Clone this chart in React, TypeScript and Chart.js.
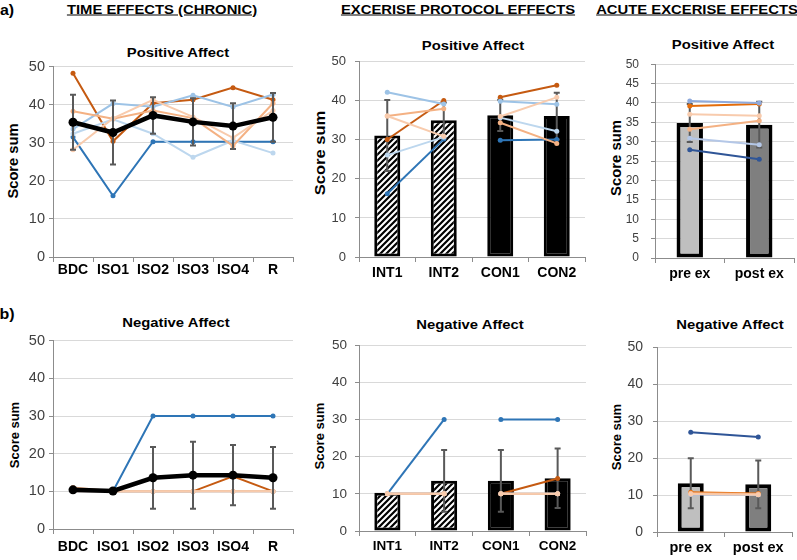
import React, { useEffect, useRef } from 'react';
import { Chart, registerables } from 'chart.js';

Chart.register(...registerables);

const FONT = "'Liberation Sans', Arial, sans-serif";
const AXIS = '#8C8C8C';
const GRID = '#D9D9D9';
const ERR = '#595959';

// ---------- categories ----------
const timeLabels = ['BDC', 'ISO1', 'ISO2', 'ISO3', 'ISO4', 'R'];
const protocolLabels = ['INT1', 'INT2', 'CON1', 'CON2'];
const acuteLabels = ['pre ex', 'post ex'];

// ---------- a) Positive affect, time effects ----------
const timePosDarkOrange = [48.3, 30.4, 40.4, 41.3, 44.5, 41.3];
const timePosDarkBlue = [31.5, 16.1, 30.3, 30.3, 30.3, 30.3];
const timePosLightBlue = [33.6, 40.3, 39.5, 42.5, 39.4, 42.7];
const timePosPaleBlue = [32.4, 36.2, 32.4, 26.2, 30.6, 27.3];
const timePosLightOrange = [38.3, 36.3, 38.5, 36.5, 29.2, 40.4];
const timePosPeach = [28.2, 36.4, 41.3, 36.8, 31.3, 38.5];
const timePosMean = [35.4, 32.7, 37.2, 35.5, 34.4, 36.7];
const timePosSD = [7.2, 8.4, 4.8, 6.2, 6.0, 6.4];

// ---------- a) Positive affect, protocol effects ----------
const protoPosDarkOrange = [30.1, 40.1, 40.9, 44.0];
const protoPosDarkBlue = [16.2, 30.2, 29.9, 30.1];
const protoPosLightBlue = [42.2, 39.2, 39.9, 39.1];
const protoPosPaleBlue = [26.1, 30.7, 35.7, 32.2];
const protoPosLightOrange = [36.1, 38.0, 34.4, 29.1];
const protoPosPeach = [36.1, 30.9, 36.0, 40.9];
const protoPosMean = [31.1, 35.0, 36.3, 36.1];
const protoPosSD = [9.1, 4.6, 4.0, 6.0];

// ---------- a) Positive affect, acute effects ----------
const acutePosOrange = [39.2, 39.7];
const acutePosDarkBlue = [27.9, 25.5];
const acutePosLightBlue = [40.5, 40.0];
const acutePosPaleBlue = [30.9, 29.2];
const acutePosLightOrange = [33.2, 35.4];
const acutePosPeach = [37.1, 36.7];
const acutePosMean = [34.8, 34.4];
const acutePosSD = [4.9, 5.9];

// ---------- b) Negative affect, time effects ----------
const timeNegDarkOrange = [10, 10, 10, 10, 14, 10];
const timeNegDarkBlue = [10, 10, 30, 30, 30, 30];
const timeNegLightBlue = [10, 10, 10, 10, 10, 10];
const timeNegPaleBlue = [10, 10, 10, 10, 10, 10];
const timeNegLightOrange = [11, 10, 10, 10, 10, 10];
const timeNegPeach = [10, 10, 10, 10, 10, 10];
const timeNegMean = [10.4, 10.1, 13.6, 14.3, 14.3, 13.6];
const timeNegSD = [0, 0, 8.2, 8.9, 8.0, 8.2];

// ---------- b) Negative affect, protocol effects ----------
const protoNegDarkOrange = [10, 10, 10, 14.1];
const protoNegDarkBlue = [10, 30, 30, 30];
const protoNegLightBlue = [10, 10, 10, 10];
const protoNegPaleBlue = [10, 10, 10, 10];
const protoNegLightOrange = [10, 10, 10, 10];
const protoNegPeach = [10, 10, 10, 10];
const protoNegMean = [10.3, 13.5, 13.5, 14.2];
const protoNegSD = [0, 8.3, 8.3, 8.0];

// ---------- b) Negative affect, acute effects ----------
const acuteNegOrange = [10.8, 10.4];
const acuteNegDarkBlue = [27.0, 25.7];
const acuteNegLightBlue = [10.2, 10.1];
const acuteNegPaleBlue = [10.2, 10.1];
const acuteNegLightOrange = [10.5, 10.3];
const acuteNegPeach = [10.3, 10.1];
const acuteNegMean = [13.2, 12.9];
const acuteNegSD = [6.8, 6.5];

const COL = {
  darkOrange: '#C55A11',
  darkBlue: '#2E75B6',
  lightBlue: '#9DC3E6',
  paleBlue: '#BDD7EE',
  lightOrange: '#F4B183',
  peach: '#F8CBAD',
};
const COLA = {
  orange: '#E46C0A',
  darkBlue: '#2F5597',
  lightBlue: '#8FAADC',
  paleBlue: '#B4C7E7',
  lightOrange: '#F4B183',
  peach: '#F8CBAD',
};

// ---------- error bar plugin ----------
function drawErr(chart: any, index: number, when: string) {
  const ds: any = chart.data.datasets[index];
  if (!ds || !ds.errors || ds.errorWhen !== when) return;
  const meta = chart.getDatasetMeta(index);
  const ys = chart.scales.y;
  const ctx = chart.ctx;
  ctx.save();
  ctx.strokeStyle = ERR;
  ctx.lineWidth = 2;
  ds.data.forEach((v: number | null, i: number) => {
    const e = ds.errors[i];
    if (!e || v == null) return;
    const el = meta.data[i];
    if (!el) return;
    const x = el.x;
    const yT = ys.getPixelForValue(v + e);
    const yB = ys.getPixelForValue(v - e);
    ctx.beginPath();
    ctx.moveTo(x, yT);
    ctx.lineTo(x, yB);
    ctx.moveTo(x - 3, yT);
    ctx.lineTo(x + 3, yT);
    ctx.moveTo(x - 3, yB);
    ctx.lineTo(x + 3, yB);
    ctx.stroke();
  });
  ctx.restore();
}

const errorBarPlugin = {
  id: 'errorBars',
  beforeDatasetDraw(chart: any, args: any) {
    drawErr(chart, args.index, 'before');
  },
  afterDatasetDraw(chart: any, args: any) {
    drawErr(chart, args.index, 'after');
  },
};

function makeHatch(): any {
  const c = document.createElement('canvas');
  const s = 6;
  c.width = s;
  c.height = s;
  const g = c.getContext('2d')!;
  g.fillStyle = '#ffffff';
  g.fillRect(0, 0, s, s);
  g.strokeStyle = '#000000';
  g.lineWidth = 2.2;
  g.beginPath();
  g.moveTo(-1, s + 1);
  g.lineTo(s + 1, -1);
  g.moveTo(-s / 2 - 1, s / 2 + 1);
  g.lineTo(s / 2 + 1, -s / 2 - 1);
  g.moveTo(s / 2 - 1, s * 1.5 + 1);
  g.lineTo(s * 1.5 + 1, s / 2 - 1);
  g.stroke();
  return g.createPattern(c, 'repeat');
}

// ---------- dataset helpers ----------
function pLine(data: (number | null)[], color: string, order = 1, width = 2, radius = 2.5): any {
  return {
    type: 'line',
    data,
    borderColor: color,
    backgroundColor: color,
    pointBackgroundColor: color,
    pointBorderColor: color,
    pointBorderWidth: 0,
    borderWidth: width,
    pointRadius: radius,
    pointHoverRadius: radius,
    tension: 0,
    spanGaps: false,
    order,
  };
}

function meanLine(data: number[], sd: number[]): any {
  return { ...pLine(data, '#000000', 0, 4.5, 4.5), errors: sd, errorWhen: 'before' };
}

function split(a: number[]): [(number | null)[], (number | null)[]] {
  return [[a[0], a[1], null, null], [null, null, a[2], a[3]]];
}

function protoLines(series: [number[], string][]): any[] {
  const out: any[] = [];
  series.forEach(([arr, col]) => {
    const [p, q] = split(arr);
    out.push(pLine(p, col));
    out.push(pLine(q, col));
  });
  return out;
}

// ---------- geometry ----------
type Geo = {
  L: number; T: number; R: number; B: number;
  yw: number; xh: number;
  yFont: number; yPad: number;
  xFont: number; xPad: number;
  step: number;
};

const PAD_T = 12;
const PAD_R = 6;

const geoA1: Geo = { L: 53, T: 66, R: 293, B: 257, yw: 50, xh: 28, yFont: 14.5, yPad: 4, xFont: 14, xPad: 0, step: 10 };
const geoA2: Geo = { L: 359, T: 57, R: 585, B: 257, yw: 40, xh: 28, yFont: 13, yPad: 9, xFont: 14, xPad: 2.5, step: 10 };
const geoA3: Geo = { L: 655, T: 57, R: 794, B: 258, yw: 44, xh: 28, yFont: 12, yPad: 12, xFont: 14, xPad: 2.5, step: 5 };
const geoB1: Geo = { L: 53, T: 340, R: 293, B: 529, yw: 50, xh: 30, yFont: 14.5, yPad: 4, xFont: 14, xPad: 4.5, step: 10 };
const geoB2: Geo = { L: 359, T: 341, R: 586, B: 531, yw: 40, xh: 29, yFont: 13.5, yPad: 8, xFont: 13.5, xPad: 2.5, step: 10 };
const geoB3: Geo = { L: 657, T: 341, R: 792, B: 532, yw: 44, xh: 28, yFont: 14, yPad: 10, xFont: 14.5, xPad: 2.3, step: 10 };

function canvasBox(g: Geo) {
  const left = g.L - g.yw;
  const top = g.T - PAD_T;
  return { left, top, width: g.R + PAD_R - left, height: g.B + g.xh - top };
}

function makeOptions(g: Geo): any {
  return {
    responsive: false,
    animation: false,
    events: [],
    layout: { padding: { top: PAD_T, right: PAD_R, left: 0, bottom: 0 } },
    plugins: {
      legend: { display: false },
      tooltip: { enabled: false },
      title: { display: false },
    },
    scales: {
      x: {
        type: 'category',
        offset: true,
        grid: { display: true, drawOnChartArea: false, offset: true, tickLength: 5, color: AXIS, lineWidth: 1 },
        border: { display: true, color: AXIS, width: 1 },
        ticks: {
          color: '#000000',
          autoSkip: false,
          maxRotation: 0,
          minRotation: 0,
          padding: g.xPad,
          font: { family: FONT, size: g.xFont, weight: 'bold' },
        },
        afterFit: (s: any) => { s.height = g.xh; },
      },
      y: {
        min: 0,
        max: 50,
        grid: { color: GRID, lineWidth: 1, tickLength: 4, tickColor: AXIS, drawTicks: true },
        border: { display: true, color: AXIS, width: 1 },
        ticks: { stepSize: g.step, color: '#404040', padding: g.yPad, font: { family: FONT, size: g.yFont } },
        afterFit: (s: any) => { s.width = g.yw; },
      },
    },
  };
}

// ---------- chart configs ----------
function cfgTime(mean: number[], sd: number[], s: [number[], string][]): any {
  return {
    type: 'line',
    data: {
      labels: timeLabels,
      datasets: [meanLine(mean, sd), ...s.map(([a, c]) => pLine(a, c))],
    },
    options: makeOptions(geoA1),
    plugins: [errorBarPlugin],
  };
}

function cfgA1(): any {
  return cfgTime(timePosMean, timePosSD, [
    [timePosPeach, COL.peach],
    [timePosLightOrange, COL.lightOrange],
    [timePosPaleBlue, COL.paleBlue],
    [timePosLightBlue, COL.lightBlue],
    [timePosDarkBlue, COL.darkBlue],
    [timePosDarkOrange, COL.darkOrange],
  ]);
}

function cfgB1(): any {
  const c = cfgTime(timeNegMean, timeNegSD, [
    [timeNegPeach, COL.peach],
    [timeNegLightOrange, COL.lightOrange],
    [timeNegPaleBlue, COL.paleBlue],
    [timeNegLightBlue, COL.lightBlue],
    [timeNegDarkOrange, COL.darkOrange],
    [timeNegDarkBlue, COL.darkBlue],
  ]);
  c.options = makeOptions(geoB1);
  return c;
}

function cfgProto(g: Geo, mean: number[], sd: number[], s: [number[], string][]): any {
  const hatch = makeHatch();
  return {
    type: 'bar',
    data: {
      labels: protocolLabels,
      datasets: [
        ...protoLines(s),
        {
          type: 'bar',
          data: mean,
          backgroundColor: [hatch, hatch, '#000000', '#000000'],
          borderColor: '#000000',
          borderWidth: 3,
          borderSkipped: false,
          barPercentage: 0.46,
          categoryPercentage: 1,
          order: 10,
          errors: sd,
          errorWhen: 'after',
        },
      ],
    },
    options: makeOptions(g),
    plugins: [errorBarPlugin],
  };
}

function cfgA2(): any {
  return cfgProto(geoA2, protoPosMean, protoPosSD, [
    [protoPosPeach, COL.peach],
    [protoPosLightOrange, COL.lightOrange],
    [protoPosPaleBlue, COL.paleBlue],
    [protoPosLightBlue, COL.lightBlue],
    [protoPosDarkBlue, COL.darkBlue],
    [protoPosDarkOrange, COL.darkOrange],
  ]);
}

function cfgB2(): any {
  return cfgProto(geoB2, protoNegMean, protoNegSD, [
    [protoNegPeach, COL.peach],
    [protoNegLightOrange, COL.lightOrange],
    [protoNegPaleBlue, COL.paleBlue],
    [protoNegLightBlue, COL.lightBlue],
    [protoNegDarkOrange, COL.darkOrange],
    [protoNegDarkBlue, COL.darkBlue],
  ]);
}

function cfgAcute(g: Geo, mean: number[], sd: number[], s: [number[], string][], pct: number): any {
  return {
    type: 'bar',
    data: {
      labels: acuteLabels,
      datasets: [
        ...s.map(([a, c]) => pLine(a, c)),
        {
          type: 'bar',
          data: mean,
          backgroundColor: ['#BFBFBF', '#7F7F7F'],
          borderColor: '#000000',
          borderWidth: 4,
          borderSkipped: false,
          barPercentage: pct,
          categoryPercentage: 1,
          order: 10,
          errors: sd,
          errorWhen: 'after',
        },
      ],
    },
    options: makeOptions(g),
    plugins: [errorBarPlugin],
  };
}

function cfgA3(): any {
  return cfgAcute(geoA3, acutePosMean, acutePosSD, [
    [acutePosLightBlue, COLA.lightBlue],
    [acutePosOrange, COLA.orange],
    [acutePosPeach, COLA.peach],
    [acutePosLightOrange, COLA.lightOrange],
    [acutePosPaleBlue, COLA.paleBlue],
    [acutePosDarkBlue, COLA.darkBlue],
  ], 0.38);
}

function cfgB3(): any {
  return cfgAcute(geoB3, acuteNegMean, acuteNegSD, [
    [acuteNegPeach, COLA.peach],
    [acuteNegLightOrange, COLA.lightOrange],
    [acuteNegOrange, COLA.orange],
    [acuteNegPaleBlue, COLA.paleBlue],
    [acuteNegLightBlue, COLA.lightBlue],
    [acuteNegDarkBlue, COLA.darkBlue],
  ], 0.385);
}

// ---------- components ----------
function ChartPanel({ geo, build }: { geo: Geo; build: () => any }) {
  const ref = useRef<HTMLCanvasElement | null>(null);
  const box = canvasBox(geo);
  useEffect(() => {
    const chart = new Chart(ref.current as HTMLCanvasElement, build());
    return () => chart.destroy();
  }, []);
  return (
    <canvas
      ref={ref}
      width={box.width}
      height={box.height}
      style={{ position: 'absolute', left: box.left, top: box.top, width: box.width, height: box.height, display: 'block' }}
    />
  );
}

function Txt({ x, y, size, text, sx = 1.14, rot = false, underline = false }: {
  x: number; y: number; size: number; text: string; sx?: number; rot?: boolean; underline?: boolean;
}) {
  const transform = `translate(-50%, -50%) ${rot ? 'rotate(-90deg) ' : ''}scaleX(${sx})`;
  return (
    <div
      style={{
        position: 'absolute',
        left: x,
        top: y,
        transform,
        fontFamily: FONT,
        fontWeight: 'bold',
        fontSize: size,
        lineHeight: `${size}px`,
        whiteSpace: 'nowrap',
        color: '#000',
        textDecoration: underline ? 'underline' : 'none',
      }}
    >
      {text}
    </div>
  );
}

export default function App() {
  return (
    <div style={{ position: 'absolute', left: 0, top: 0, width: 797, height: 560, overflow: 'hidden', background: '#ffffff' }}>
      <Txt x={7} y={10} size={14} text="a)" />
      <Txt x={7} y={314} size={14} text="b)" />
      <Txt x={162} y={8.5} size={13} text="TIME EFFECTS (CHRONIC)" underline />
      <Txt x={457.5} y={8.5} size={13} text="EXCERISE PROTOCOL EFFECTS" underline />
      <Txt x={696.5} y={8.5} size={13} text="ACUTE EXCERISE EFFECTS" underline />

      <Txt x={177.7} y={51.7} size={13} text="Positive Affect" />
      <Txt x={473} y={45} size={13} text="Positive Affect" />
      <Txt x={722.5} y={44.3} size={13} text="Positive Affect" />
      <Txt x={176.3} y={321.7} size={13} text="Negative Affect" />
      <Txt x={469.7} y={324} size={13} text="Negative Affect" />
      <Txt x={730.3} y={323.5} size={13} text="Negative Affect" />

      <Txt x={13.3} y={160.8} size={14} text="Score sum" rot sx={1.05} />
      <Txt x={319} y={153.3} size={15} text="Score sum" rot sx={1.1} />
      <Txt x={615.7} y={158} size={14} text="Score sum" rot sx={1.06} />
      <Txt x={14.7} y={434.7} size={12} text="Score sum" rot sx={1.08} />
      <Txt x={320} y={436.3} size={12} text="Score sum" rot sx={1.09} />
      <Txt x={616.7} y={437} size={12} text="Score sum" rot sx={1.08} />

      <ChartPanel geo={geoA1} build={cfgA1} />
      <ChartPanel geo={geoA2} build={cfgA2} />
      <ChartPanel geo={geoA3} build={cfgA3} />
      <ChartPanel geo={geoB1} build={cfgB1} />
      <ChartPanel geo={geoB2} build={cfgB2} />
      <ChartPanel geo={geoB3} build={cfgB3} />
    </div>
  );
}
